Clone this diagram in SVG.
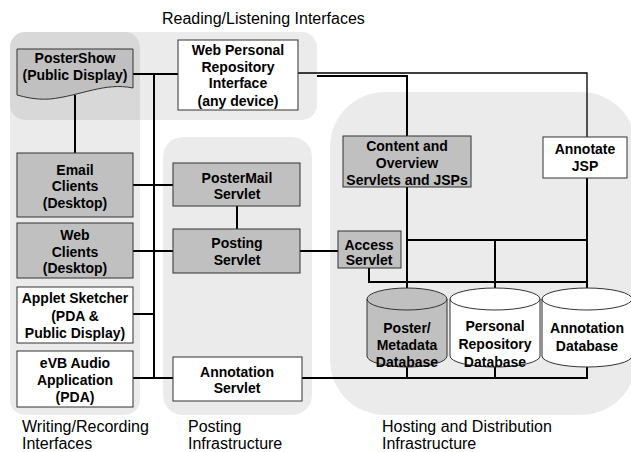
<svg xmlns="http://www.w3.org/2000/svg" width="631" height="452" viewBox="0 0 631 452">
<style>
.panel{fill:#000;fill-opacity:0.08;stroke:none}
.box{stroke:#333;stroke-width:1}
.gray{fill:#c0c0c0}
.white{fill:#fff}
.t{font-family:"Liberation Sans",Arial,sans-serif;font-size:14px;font-weight:bold;fill:#000;text-anchor:middle}
.lbl{font-family:"Liberation Sans",Arial,sans-serif;font-size:16px;fill:#000}
.c{fill:none;stroke:#000;stroke-width:2}
.thin{fill:none;stroke:#000;stroke-width:1.3}
</style>
<rect width="631" height="452" fill="#fff"/>
<g id="panels">
<rect class="panel" x="10" y="32" width="130" height="383" rx="15"/>
<rect class="panel" x="10" y="32" width="307" height="88" rx="15"/>
<rect class="panel" x="163" y="137" width="149" height="278" rx="20"/>
<rect class="panel" x="330" y="92" width="306" height="323" rx="55"/>
</g>
<g id="labels">
<text class="lbl" x="162" y="24">Reading/Listening Interfaces</text>
<text class="lbl" x="22" y="432">Writing/Recording</text>
<text class="lbl" x="22" y="449">Interfaces</text>
<text class="lbl" x="188" y="432">Posting</text>
<text class="lbl" x="188" y="449">Infrastructure</text>
<text class="lbl" x="382" y="432">Hosting and Distribution</text>
<text class="lbl" x="382" y="449">Infrastructure</text>
</g>
<g id="connectors">
<path class="c" d="M133,74 H178"/>
<path class="c" d="M154,74 V378"/>
<path class="c" d="M75,95 V153"/>
<path class="c" d="M133,185 H173"/>
<path class="c" d="M237,206 V229"/>
<path class="c" d="M133,251 H173"/>
<path class="c" d="M300,251 H338"/>
<path class="c" d="M133,314 H154"/>
<path class="c" d="M133,378 H173"/>
<path class="c" d="M302,378 H588"/>
<path class="thin" d="M298,73 H587 V137"/>
<path class="c" d="M317,76 H407 V136"/>
<path class="c" d="M407,187 V290"/>
<path class="c" d="M587,178 V292"/>
<path class="c" d="M407,240 H587"/>
<path class="c" d="M495,240 V292"/>
<path class="c" d="M369,268 V282 H587"/>
<path class="c" d="M407,360 V378"/>
<path class="c" d="M495,360 V378"/>
<path class="c" d="M587,360 V378"/>
</g>
<g id="postershow">
<path class="box gray" d="M17,49 H133 V88 C105,82 80,96 50,99 C35,100 25,97 17,95 Z"/>
<text class="t" x="75" y="63">PosterShow</text>
<text class="t" x="75" y="80">(Public Display)</text>
</g>
<g id="wpri">
<rect class="box white" x="178" y="40" width="120" height="70"/>
<text class="t" x="238" y="55">Web Personal</text>
<text class="t" x="238" y="72">Repository</text>
<text class="t" x="238" y="88">Interface</text>
<text class="t" x="238" y="106">(any device)</text>
</g>
<g id="email">
<rect class="box gray" x="17" y="153" width="116" height="64"/>
<text class="t" x="75" y="175">Email</text>
<text class="t" x="75" y="191">Clients</text>
<text class="t" x="75" y="208">(Desktop)</text>
</g>
<g id="webclients">
<rect class="box gray" x="17" y="223" width="116" height="55"/>
<text class="t" x="75" y="240">Web</text>
<text class="t" x="75" y="257">Clients</text>
<text class="t" x="75" y="273">(Desktop)</text>
</g>
<g id="applet">
<rect class="box white" x="17" y="287" width="116" height="56"/>
<text class="t" x="75" y="303">Applet Sketcher</text>
<text class="t" x="75" y="321">(PDA &amp;</text>
<text class="t" x="75" y="338">Public Display)</text>
</g>
<g id="evb">
<rect class="box white" x="17" y="351" width="116" height="56"/>
<text class="t" x="75" y="368">eVB Audio</text>
<text class="t" x="75" y="385">Application</text>
<text class="t" x="75" y="402">(PDA)</text>
</g>
<g id="postermail">
<rect class="box gray" x="173" y="163" width="127" height="43"/>
<text class="t" x="237" y="183">PosterMail</text>
<text class="t" x="237" y="199">Servlet</text>
</g>
<g id="posting">
<rect class="box gray" x="173" y="229" width="127" height="44"/>
<text class="t" x="237" y="248">Posting</text>
<text class="t" x="237" y="265">Servlet</text>
</g>
<g id="annotationservlet">
<rect class="box white" x="173" y="357" width="129" height="44"/>
<text class="t" x="237" y="377">Annotation</text>
<text class="t" x="237" y="393">Servlet</text>
</g>
<g id="content">
<rect class="box gray" x="343" y="136" width="128" height="51"/>
<text class="t" x="407" y="151">Content and</text>
<text class="t" x="407" y="168">Overview</text>
<text class="t" x="407" y="185">Servlets and JSPs</text>
</g>
<g id="annotatejsp">
<rect class="box white" x="543" y="137" width="84" height="41"/>
<text class="t" x="585" y="154">Annotate</text>
<text class="t" x="585" y="171">JSP</text>
</g>
<g id="access">
<rect class="box gray" x="338" y="231" width="63" height="37"/>
<text class="t" x="369" y="250">Access</text>
<text class="t" x="369" y="265">Servlet</text>
</g>
<g id="posterdb">
<path class="box gray" d="M367,299 V356 A40,11 0 0 0 447,356 V299 A40,11 0 0 0 367,299 Z"/>
<path class="box" fill="none" d="M367,299 A40,11 0 0 0 447,299"/>
<text class="t" x="407" y="333">Poster/</text>
<text class="t" x="407" y="350">Metadata</text>
<text class="t" x="407" y="367">Database</text>
</g>
<g id="personaldb">
<path class="box white" d="M450,299 V356 A45,11 0 0 0 540,356 V299 A45,11 0 0 0 450,299 Z"/>
<path class="box" fill="none" d="M450,299 A45,11 0 0 0 540,299"/>
<text class="t" x="495" y="331">Personal</text>
<text class="t" x="495" y="349">Repository</text>
<text class="t" x="495" y="367">Database</text>
</g>
<g id="annotationdb">
<path class="box white" d="M542,299 V356 A45,11 0 0 0 632,356 V299 A45,11 0 0 0 542,299 Z"/>
<path class="box" fill="none" d="M542,299 A45,11 0 0 0 632,299"/>
<text class="t" x="587" y="333">Annotation</text>
<text class="t" x="587" y="351">Database</text>
</g>
</svg>
